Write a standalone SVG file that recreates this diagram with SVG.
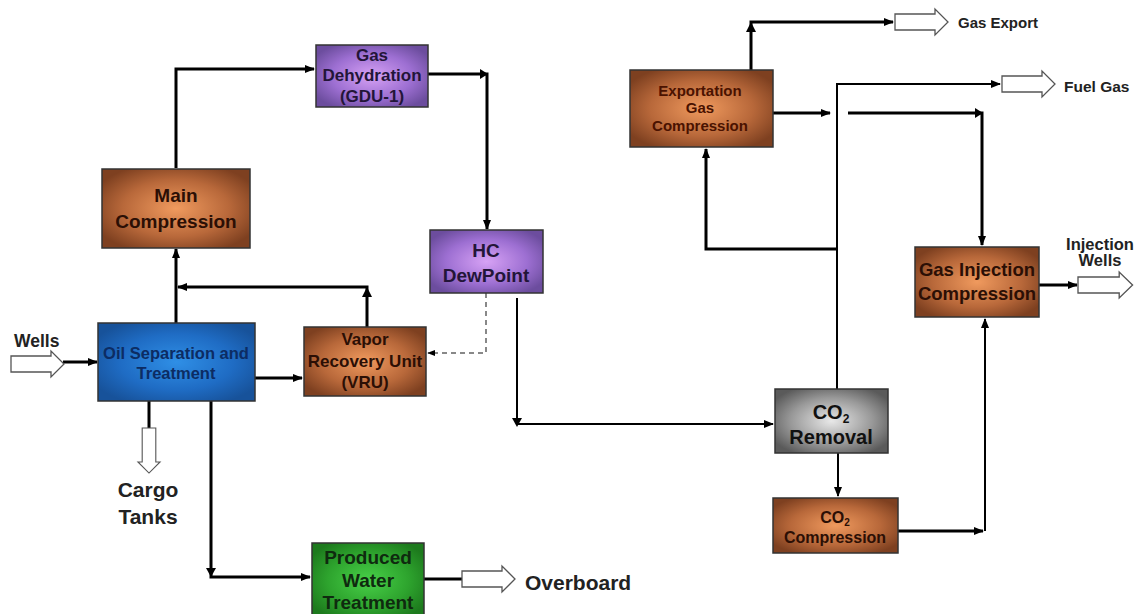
<svg xmlns="http://www.w3.org/2000/svg" width="1137" height="614" viewBox="0 0 1137 614">
<defs>
<radialGradient id="gOr" cx="50%" cy="50%" r="60%"><stop offset="0" stop-color="#f09a5e"/><stop offset="0.6" stop-color="#b8683a"/><stop offset="1" stop-color="#7e4020"/></radialGradient>
<radialGradient id="gPu" cx="50%" cy="50%" r="60%"><stop offset="0" stop-color="#d7a2f5"/><stop offset="0.6" stop-color="#9d6fd2"/><stop offset="1" stop-color="#6c4d9e"/></radialGradient>
<radialGradient id="gBl" cx="50%" cy="50%" r="60%"><stop offset="0" stop-color="#2f8fe6"/><stop offset="0.6" stop-color="#1f6cc4"/><stop offset="1" stop-color="#17529a"/></radialGradient>
<radialGradient id="gGr" cx="50%" cy="50%" r="60%"><stop offset="0" stop-color="#e8e8e8"/><stop offset="0.6" stop-color="#999"/><stop offset="1" stop-color="#5a5a5a"/></radialGradient>
<radialGradient id="gGn" cx="50%" cy="50%" r="60%"><stop offset="0" stop-color="#48d048"/><stop offset="0.6" stop-color="#2ea42e"/><stop offset="1" stop-color="#1d7a1d"/></radialGradient>
<marker id="ah" viewBox="0 0 10 10" refX="9" refY="5" markerWidth="10" markerHeight="10" markerUnits="userSpaceOnUse" orient="auto"><path d="M0,1 L10,5 L0,9 Z" fill="#000"/></marker>
<marker id="ahs" viewBox="0 0 10 10" refX="9" refY="5" markerWidth="8" markerHeight="8" markerUnits="userSpaceOnUse" orient="auto"><path d="M0,1 L10,5 L0,9 Z" fill="#000"/></marker>
<path id="hollow" d="M0,-8 L40,-8 L40,-13 L53,0 L40,13 L40,8 L0,8 Z" fill="#fff" stroke="#555" stroke-width="1.3"/>
</defs>
<style>
.box{stroke:#333;stroke-width:1.5}
.t{font-family:"Liberation Sans",Arial,sans-serif;font-weight:bold;text-anchor:middle}
.dk{fill:#2b0f05}
.pu{fill:#231538}
.bl{fill:#0c2c63}
.gn{fill:#0f2a0f}
.lbl{font-family:"Liberation Sans",Arial,sans-serif;font-weight:bold;fill:#222}
.c{fill:none;stroke:#000;stroke-width:3}
.c2{fill:none;stroke:#000;stroke-width:2}
</style>
<rect width="1137" height="614" fill="#fff"/>

<g id="connectors">
<polyline class="c" points="176,168 176,69 314,69" marker-end="url(#ah)"/>
<polyline class="c" points="428,74 487,74 487,229" marker-end="url(#ah)"/>
<path d="M480,69 L488,74 L480,79 Z" fill="#000"/>
<polyline fill="none" stroke="#888" stroke-width="2" stroke-dasharray="5,4" points="486,293 486,353 428,353" marker-end="url(#ahs)"/>
<polyline class="c2" points="517,298 517,424 773,424" marker-end="url(#ah)"/>
<path d="M512,418 L517,427 L522,418 Z" fill="#000"/>
<polyline class="c" points="63,362 97,362" marker-end="url(#ah)"/>
<polyline class="c" points="176,323 176,249" marker-end="url(#ah)"/>
<polyline class="c" points="367,327 367,287 178,287" marker-end="url(#ah)"/>
<path d="M362,297 L367,287 L372,297 Z" fill="#000"/>
<polyline class="c" points="255,378 302,378" marker-end="url(#ah)"/>
<polyline class="c" points="149,401 149,429"/>
<polyline class="c" points="211,401 211,577 310,577" marker-end="url(#ah)"/>
<path d="M206,568 L211,577 L216,568 Z" fill="#000"/>
<polyline class="c" points="424,579 462,579"/>
<polyline class="c2" points="838,453 838,496" marker-end="url(#ah)"/>
<polyline class="c" points="898,531 983,531" marker-end="url(#ah)"/>
<polyline class="c2" points="985,531 985,319" marker-end="url(#ah)"/>
<polyline class="c2" points="837,389 837,84 1000,84" marker-end="url(#ah)"/>
<polyline class="c" points="837,249 706,249 706,149" marker-end="url(#ah)"/>
<polyline class="c" points="751,70 751,22 893,22" marker-end="url(#ah)"/>
<path d="M746,32 L751,22 L756,32 Z" fill="#000"/>
<polyline class="c" points="773,113 830,113" marker-end="url(#ah)"/>
<polyline class="c" points="848,113 982,113 982,245" marker-end="url(#ah)"/>
<path d="M975,108 L983,113 L975,118 Z" fill="#000"/>
<polyline class="c" points="1039,285 1077,285" marker-end="url(#ah)"/>
<use href="#hollow" transform="translate(11,364)"/>
<use href="#hollow" transform="translate(149,428) rotate(90) scale(0.85,0.85)"/>
<use href="#hollow" transform="translate(462,579)"/>
<use href="#hollow" transform="translate(895,22)"/>
<use href="#hollow" transform="translate(1002,84)"/>
<use href="#hollow" transform="translate(1078,285) scale(1.03,1)"/>
</g>

<g id="gas-dehydration"><rect class="box" x="316" y="45" width="112" height="62" fill="url(#gPu)"/>
<text class="t pu" font-size="17" font-weight="normal" x="372" y="61">Gas</text>
<text class="t pu" font-size="17" font-weight="normal" x="372" y="81">Dehydration</text>
<text class="t pu" font-size="17" font-weight="normal" x="372" y="102">(GDU-1)</text></g>

<g id="main-compression"><rect class="box" x="102" y="169" width="148" height="79" fill="url(#gOr)"/>
<text class="t dk" font-size="19" x="176" y="202">Main</text>
<text class="t dk" font-size="19" x="176" y="228">Compression</text></g>

<g id="hc-dewpoint"><rect class="box" x="430" y="230" width="113" height="63" fill="url(#gPu)"/>
<text class="t pu" font-size="19" x="486" y="257">HC</text>
<text class="t pu" font-size="19" x="486" y="282">DewPoint</text></g>

<g id="oil-separation"><rect class="box" x="98" y="323" width="157" height="78" fill="url(#gBl)"/>
<text class="t bl" font-size="16.5" x="176" y="359">Oil Separation and</text>
<text class="t bl" font-size="16.5" x="176" y="379">Treatment</text></g>

<g id="vru"><rect class="box" x="304" y="327" width="122" height="69" fill="url(#gOr)"/>
<text class="t dk" font-size="17" x="365" y="345">Vapor</text>
<text class="t dk" font-size="17" x="365" y="367">Recovery Unit</text>
<text class="t dk" font-size="17" x="365" y="388">(VRU)</text></g>

<g id="produced-water"><rect class="box" x="312" y="543" width="112" height="75" fill="url(#gGn)"/>
<text class="t gn" font-size="19" x="368" y="564">Produced</text>
<text class="t gn" font-size="19" x="368" y="587">Water</text>
<text class="t gn" font-size="19" x="368" y="609">Treatment</text></g>

<g id="exportation-gas-compression"><rect class="box" x="630" y="70" width="143" height="77" fill="url(#gOr)"/>
<text class="t" fill="#4a1200" font-size="15" x="700" y="96">Exportation</text>
<text class="t" fill="#4a1200" font-size="15" x="700" y="113">Gas</text>
<text class="t" fill="#4a1200" font-size="15" x="700" y="131">Compression</text></g>

<g id="gas-injection-compression"><rect class="box" x="915" y="247" width="124" height="70" fill="url(#gOr)"/>
<text class="t dk" font-size="18.5" x="977" y="276">Gas Injection</text>
<text class="t dk" font-size="18.5" x="977" y="300">Compression</text></g>

<g id="co2-removal"><rect class="box" x="775" y="389" width="113" height="64" fill="url(#gGr)"/>
<text class="t" fill="#111" font-size="20" x="831" y="419">CO<tspan font-size="12" dy="4">2</tspan></text>
<text class="t" fill="#111" font-size="20" x="831" y="444">Removal</text></g>

<g id="co2-compression"><rect class="box" x="773" y="498" width="125" height="55" fill="url(#gOr)"/>
<text class="t dk" font-size="16" x="835" y="523">CO<tspan font-size="10" dy="3">2</tspan></text>
<text class="t dk" font-size="16" x="835" y="543">Compression</text></g>

<g id="labels">
<text class="lbl" font-size="17.5" x="14" y="347">Wells</text>
<text class="lbl" font-size="21" x="148" y="497" text-anchor="middle">Cargo</text>
<text class="lbl" font-size="21" x="148" y="524" text-anchor="middle">Tanks</text>
<text class="lbl" font-size="21" x="525" y="590">Overboard</text>
<text class="lbl" font-size="15" x="958" y="28">Gas Export</text>
<text class="lbl" font-size="15.5" x="1064" y="92">Fuel Gas</text>
<text class="lbl" font-size="16.5" x="1100" y="250" text-anchor="middle">Injection</text>
<text class="lbl" font-size="16.5" x="1100" y="266" text-anchor="middle">Wells</text>
</g>
</svg>
